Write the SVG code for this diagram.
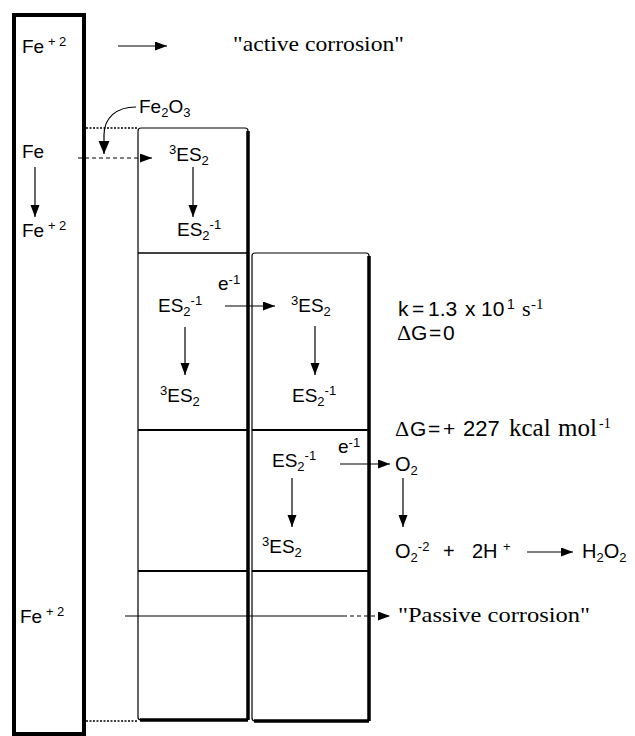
<svg xmlns="http://www.w3.org/2000/svg" width="635" height="736" viewBox="0 0 635 736">
<defs>
<style>
.s{font-family:"Liberation Sans",Arial,sans-serif;font-size:19px;fill:#000}
.r{font-family:"Liberation Serif","Times New Roman",serif;font-size:22px;fill:#000}
.sm{font-size:13px}
.ln{stroke:#000;stroke-width:1.2;fill:none}
.thin{stroke:#000;stroke-width:1.2;fill:none}
.thick{stroke:#000;stroke-width:3.5;fill:none}
.dot{stroke:#000;stroke-width:1.5;fill:none;stroke-dasharray:2 1.5}
.dash{stroke:#000;stroke-width:1.2;fill:none;stroke-dasharray:4 3}
</style>
<marker id="ah" markerUnits="userSpaceOnUse" markerWidth="13" markerHeight="10" refX="12" refY="4.5" orient="auto">
<path d="M0,0 L12,4.5 L0,9 z" fill="#000"/>
</marker>
<marker id="ahb" markerUnits="userSpaceOnUse" markerWidth="14" markerHeight="12" refX="13" refY="5.5" orient="auto">
<path d="M0,0 L13,5.5 L0,11 z" fill="#000"/>
</marker>
</defs>
<rect width="635" height="736" fill="#fff"/>

<g id="metal">
<rect x="14" y="15" width="70" height="719" fill="none" stroke="#000" stroke-width="4"/>
</g>

<g id="column1">
<rect x="138" y="128" width="110" height="592" rx="3" class="thin"/>
<path d="M248,131 V720 M140,720 H248" class="thick"/>
<path d="M138,253 H248" stroke="#000" stroke-width="1.5"/>
<path d="M138,430 H248" stroke="#000" stroke-width="2"/>
<path d="M138,571 H248" stroke="#000" stroke-width="2"/>
</g>

<g id="column2">
<rect x="252" y="253" width="117" height="468" rx="3" class="thin"/>
<path d="M369,256 V721 M254,721 H369" class="thick"/>
<path d="M252,430 H369" stroke="#000" stroke-width="2"/>
<path d="M252,571 H369" stroke="#000" stroke-width="2"/>
</g>

<g id="connectors">
<path d="M86,128 H138" class="dot"/>
<path d="M86,721 H138" class="dot"/>
<path d="M118,46 H167" class="ln" marker-end="url(#ah)"/>
<path d="M136,107 C116,107 104,118 104,135 L104,154" class="ln" marker-end="url(#ahb)"/>
<path d="M78,158 H152" class="dash" marker-end="url(#ah)"/>
<path d="M35,167 V217" class="ln" marker-end="url(#ah)"/>
<path d="M193,167 V217" class="ln" marker-end="url(#ah)"/>
<path d="M225,306 H275" class="ln" marker-end="url(#ah)"/>
<path d="M185,327 V375" class="ln" marker-end="url(#ah)"/>
<path d="M315,326 V375" class="ln" marker-end="url(#ah)"/>
<path d="M340,464 H390" class="ln" marker-end="url(#ah)"/>
<path d="M292,478 V527" class="ln" marker-end="url(#ah)"/>
<path d="M403,478 V527" class="ln" marker-end="url(#ah)"/>
<path d="M527,552 H573" class="ln" marker-end="url(#ah)"/>
<path d="M125,616 H343" class="ln"/>
<path d="M343,616 H390" class="dash" marker-end="url(#ah)"/>
</g>

<g id="labels-left">
<text class="s" x="22" y="53">Fe<tspan class="sm" x="48" dy="-7">+</tspan><tspan class="sm" x="59">2</tspan></text>
<text class="s" x="22" y="158">Fe</text>
<text class="s" x="22" y="237">Fe<tspan class="sm" x="48" dy="-7">+</tspan><tspan class="sm" x="59">2</tspan></text>
<text class="s" x="20" y="623">Fe<tspan class="sm" x="46" dy="-7">+</tspan><tspan class="sm" x="57">2</tspan></text>
</g>

<g id="active">
<text class="r" x="233" y="51" textLength="171" lengthAdjust="spacingAndGlyphs">"active corrosion"</text>
</g>

<g id="fe2o3">
<text class="s" x="139" y="113">Fe<tspan class="sm" dy="4">2</tspan><tspan dy="-4">O</tspan><tspan class="sm" dy="4">3</tspan></text>
</g>

<g id="c1b1">
<text class="s" x="169" y="161"><tspan class="sm" dy="-7">3</tspan><tspan dy="7">ES</tspan><tspan class="sm" dy="4">2</tspan></text>
<text class="s" x="177" y="236">ES<tspan class="sm" dy="4">2</tspan><tspan class="sm" dy="-11">-1</tspan></text>
</g>

<g id="c1b2">
<text class="s" x="158" y="312">ES<tspan class="sm" dy="4">2</tspan><tspan class="sm" dy="-11">-1</tspan></text>
<text class="s" x="218" y="290">e<tspan class="sm" dy="-6">-1</tspan></text>
<text class="s" x="160" y="402"><tspan class="sm" dy="-7">3</tspan><tspan dy="7">ES</tspan><tspan class="sm" dy="4">2</tspan></text>
</g>

<g id="c2b1">
<text class="s" x="291" y="312"><tspan class="sm" dy="-7">3</tspan><tspan dy="7">ES</tspan><tspan class="sm" dy="4">2</tspan></text>
<text class="s" x="292" y="402">ES<tspan class="sm" dy="4">2</tspan><tspan class="sm" dy="-11">-1</tspan></text>
</g>

<g id="c2b2">
<text class="s" x="272" y="467">ES<tspan class="sm" dy="4">2</tspan><tspan class="sm" dy="-11">-1</tspan></text>
<text class="s" x="338" y="453">e<tspan class="sm" dy="-6">-1</tspan></text>
<text class="s" x="262" y="553"><tspan class="sm" dy="-7">3</tspan><tspan dy="7">ES</tspan><tspan class="sm" dy="4">2</tspan></text>
</g>

<g id="rate">
<text class="s" x="398" y="316" style="font-size:21px">k<tspan x="412">=</tspan><tspan x="428">1.3</tspan><tspan x="465">x</tspan><tspan x="481">10</tspan><tspan style="font-size:14px" x="507" dy="-7">1</tspan><tspan class="r" style="font-size:22px" x="522" dy="7">s</tspan><tspan class="r" style="font-size:15px" x="531" dy="-7">-1</tspan></text>
<text class="s" x="397" y="340" style="font-size:21px"><tspan class="r" style="font-size:22px">Δ</tspan><tspan x="411">G</tspan><tspan x="429">=</tspan><tspan x="443">0</tspan></text>
</g>

<g id="dg">
<text class="s" x="395" y="436" style="font-size:21px"><tspan class="r" style="font-size:22px">Δ</tspan><tspan x="410">G</tspan><tspan x="428">=</tspan><tspan x="443">+</tspan><tspan x="463" style="font-size:22px">227</tspan><tspan class="r" style="font-size:25px" x="509">kcal</tspan><tspan class="r" style="font-size:25px" x="558">mol</tspan><tspan class="r" style="font-size:14px" x="599" dy="-8">-1</tspan></text>
</g>

<g id="oxygen">
<text class="s" x="395" y="471" style="font-size:20px">O<tspan class="sm" dy="4">2</tspan></text>
<text class="s" x="395" y="558" style="font-size:20px">O<tspan class="sm" dy="4">2</tspan><tspan class="sm" dy="-11">-2</tspan><tspan x="443" dy="7">+</tspan><tspan x="472">2H</tspan><tspan class="sm" x="503" dy="-7">+</tspan></text>
<text class="s" x="582" y="558" style="font-size:20px">H<tspan class="sm" dy="4">2</tspan><tspan dy="-4">O</tspan><tspan class="sm" dy="4">2</tspan></text>
</g>

<g id="passive">
<text class="r" x="398" y="622" textLength="192" lengthAdjust="spacingAndGlyphs">"Passive corrosion"</text>
</g>
</svg>
